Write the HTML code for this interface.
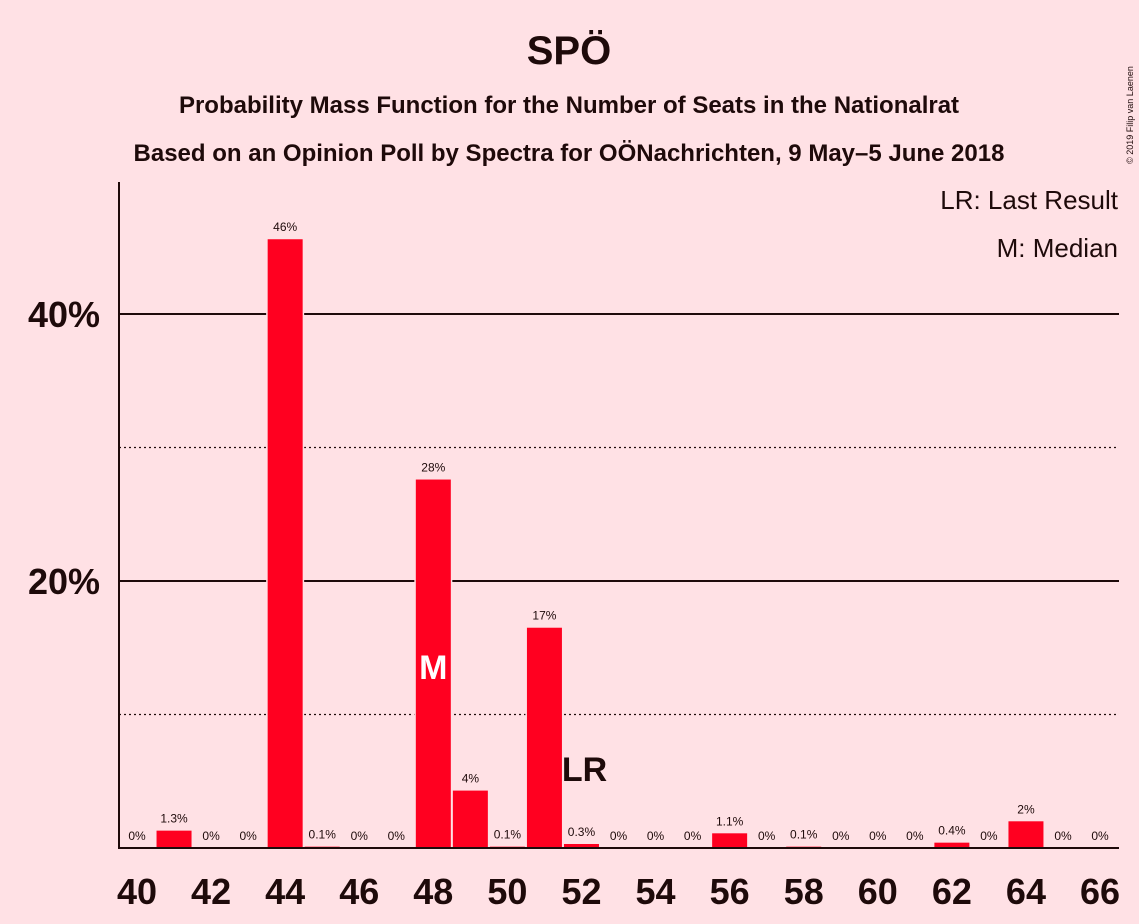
<!DOCTYPE html>
<html><head><meta charset="utf-8"><style>
html,body{margin:0;padding:0;background:#ffe1e5;}
svg{display:block;font-family:"Liberation Sans",sans-serif;}
</style></head><body>
<svg id="chart" width="1139" height="924" viewBox="0 0 1139 924">
<rect width="1139" height="924" fill="#ffe1e5"/>
<text x="569" y="64" text-anchor="middle" font-size="40" font-weight="bold" fill="#1e0a0a">SPÖ</text>
<text x="569" y="113" text-anchor="middle" font-size="24" font-weight="bold" fill="#1e0a0a">Probability Mass Function for the Number of Seats in the Nationalrat</text>
<text x="569" y="161" text-anchor="middle" font-size="24" font-weight="bold" fill="#1e0a0a">Based on an Opinion Poll by Spectra for OÖNachrichten, 9 May–5 June 2018</text>
<text x="1133" y="115" font-size="9" fill="#1e0a0a" transform="rotate(-90 1133 115)" text-anchor="middle">© 2019 Filip van Laenen</text>
<text x="1118" y="209" text-anchor="end" font-size="26" fill="#1e0a0a">LR: Last Result</text>
<text x="1118" y="257" text-anchor="end" font-size="26" fill="#1e0a0a">M: Median</text>
<g id="grid"></g><g id="bars"></g><g id="labels"></g>
</svg>
<script>
const seats=[40,41,42,43,44,45,46,47,48,49,50,51,52,53,54,55,56,57,58,59,60,61,62,63,64,65,66];
const probs=[0,1.3,0,0,45.6,0.1,0,0,27.6,4.3,0.1,16.5,0.3,0,0,0,1.1,0,0.1,0,0,0,0.4,0,2.0,0,0];
const valueLabels=["0%","1.3%","0%","0%","46%","0.1%","0%","0%","28%","4%","0.1%","17%","0.3%","0%","0%","0%","1.1%","0%","0.1%","0%","0%","0%","0.4%","0%","2%","0%","0%"];
const yTicks=[10,20,30,40];
const yTickLabels=["","20%","","40%"];
const xTickSeats=[40,42,44,46,48,50,52,54,56,58,60,62,64,66];
const medianSeat=48, lastResultSeat=52;
const NS="http://www.w3.org/2000/svg";
const x=s=>137+(s-40)*37.04;
const y=p=>848-p*13.35;
function mk(tag,attrs,parent,txt){const e=document.createElementNS(NS,tag);for(const k in attrs)e.setAttribute(k,attrs[k]);if(txt!==undefined)e.textContent=txt;document.getElementById(parent).appendChild(e);return e;}
yTicks.forEach((t,i)=>{
  const major=t%20===0;
  const l=mk('line',{x1:119,x2:1119,y1:y(t),y2:y(t),stroke:'#1e0a0a','stroke-width':major?2:1.3,'stroke-dasharray':major?'none':'2,3'},'grid');
  
  
  if(yTickLabels[i]){const tx=mk('text',{x:100,y:y(t)+13,'text-anchor':'end','font-size':36,'font-weight':'bold',fill:'#1e0a0a'},'labels',yTickLabels[i]);
  
  }
});
seats.forEach((s,i)=>{
  const p=probs[i];
  if(p>0){const r=mk('rect',{x:x(s)-17.5,y:y(p),width:35,height:848-y(p),fill:'#ff0020',stroke:'#ffe1e5','stroke-width':3,'paint-order':'stroke'},'bars');
  
  }
  const t=mk('text',{x:x(s),y:y(p)-8,'text-anchor':'middle','font-size':12,fill:'#1e0a0a'},'labels',valueLabels[i]);
  
  
});
const ax=mk('line',{x1:119,x2:1119,y1:848,y2:848,stroke:'#1e0a0a','stroke-width':2},'labels');


const ay=mk('line',{x1:119,x2:119,y1:182,y2:849,stroke:'#1e0a0a','stroke-width':2},'labels');


xTickSeats.forEach(s=>{const t=mk('text',{x:x(s),y:904,'text-anchor':'middle','font-size':36,'font-weight':'bold',fill:'#1e0a0a'},'labels',String(s));

});
const mi=seats.indexOf(medianSeat);
const m=mk('text',{x:x(medianSeat),y:(y(probs[mi])+848)/2+15,'text-anchor':'middle','font-size':34,'font-weight':'bold',fill:'#ffffff'},'labels','M');


const lr=mk('text',{x:x(lastResultSeat)+3,y:781,'text-anchor':'middle','font-size':34,'font-weight':'bold',fill:'#1e0a0a'},'labels','LR');


</script>
</body></html>
